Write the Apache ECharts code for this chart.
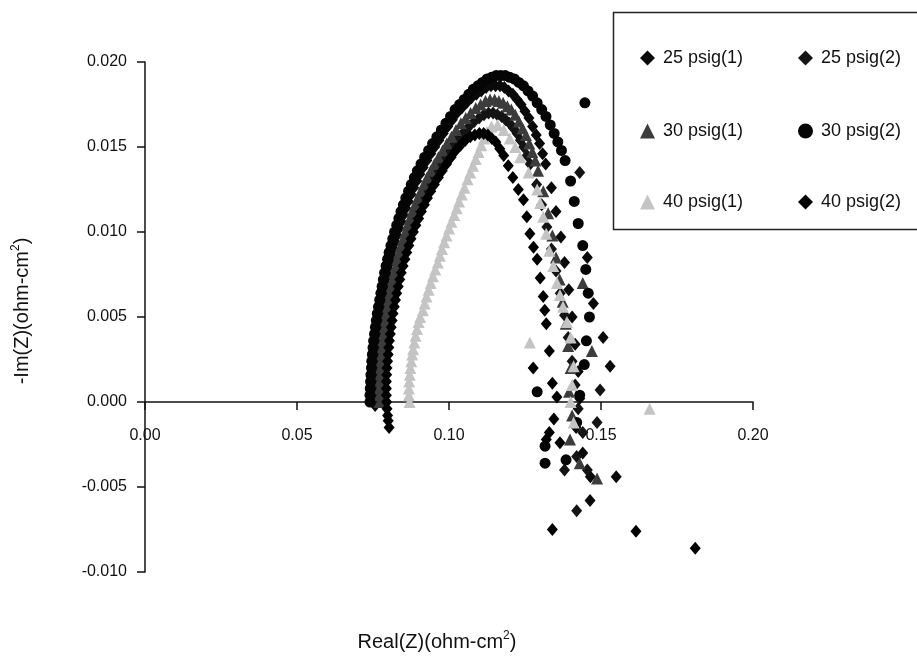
<!DOCTYPE html>
<html>
<head>
<meta charset="utf-8">
<script src="https://cdn.jsdelivr.net/npm/echarts@6/dist/echarts.min.js"></script>
<style>
html,body{margin:0;padding:0;background:#fff;}
#chart{width:917px;height:656px;}
</style>
</head>
<body>
<div id="chart"></div>
<script>
// ---- data (Real(Z), -Im(Z)) ----
const seriesNames = ['25 psig(1)', '25 psig(2)', '30 psig(1)', '30 psig(2)', '40 psig(1)', '40 psig(2)'];
const xTicks = [0.00, 0.05, 0.10, 0.15, 0.20];
const yTicks = [-0.010, -0.005, 0.000, 0.005, 0.010, 0.015, 0.020];

const psig25_1 = [
  [0.0757,-0.0002],[0.0756,0.0002],[0.0756,0.0006],[0.0756,0.0010],[0.0757,0.0014],[0.0758,0.0018],
  [0.0760,0.0022],[0.0761,0.0026],[0.0763,0.0030],[0.0765,0.0034],[0.0767,0.0038],[0.0769,0.0042],
  [0.0772,0.0046],[0.0775,0.0050],[0.0778,0.0054],[0.0781,0.0058],[0.0785,0.0062],[0.0789,0.0066],
  [0.0793,0.0070],[0.0797,0.0074],[0.0802,0.0078],[0.0807,0.0082],[0.0812,0.0086],[0.0817,0.0090],
  [0.0823,0.0094],[0.0829,0.0098],[0.0836,0.0102],[0.0843,0.0106],[0.0850,0.0110],[0.0858,0.0114],
  [0.0866,0.0118],[0.0875,0.0122],[0.0884,0.0126],[0.0894,0.0130],[0.0904,0.0134],[0.0915,0.0138],
  [0.0927,0.0142],[0.0940,0.0146],[0.0953,0.0150],[0.0967,0.0154],[0.0981,0.0158],[0.0996,0.0162],
  [0.1011,0.0166],[0.1026,0.0170],[0.1042,0.0173],[0.1058,0.0176],[0.1074,0.0179],[0.1090,0.0181],
  [0.1106,0.0183],[0.1122,0.0185],[0.1138,0.0186],[0.1153,0.0186],[0.1168,0.0186],[0.1182,0.0185],
  [0.1196,0.0183],[0.1210,0.0181],[0.1224,0.0178],[0.1237,0.0175],[0.1250,0.0171],[0.1263,0.0167],
  [0.1275,0.0162],[0.1287,0.0157],[0.1298,0.0152],[0.1308,0.0146],[0.1318,0.0140],[0.1337,0.0126],
  [0.1352,0.0112],[0.1368,0.0097],[0.1455,0.0085],[0.1380,0.0082],[0.1394,0.0066],[0.1475,0.0058],
  [0.1405,0.0050],[0.1507,0.0038],[0.1415,0.0034],[0.1530,0.0021],[0.1425,0.0018],[0.1430,0.0002],
  [0.1418,-0.0015],[0.1440,-0.0030],[0.1465,-0.0044],[0.1464,-0.0058],[0.1550,-0.0044]
];
const psig25_2 = [
  [0.0787,0.0000],[0.0786,0.0004],[0.0786,0.0008],[0.0787,0.0012],[0.0788,0.0016],[0.0789,0.0020],
  [0.0791,0.0024],[0.0793,0.0028],[0.0795,0.0032],[0.0797,0.0036],[0.0800,0.0040],[0.0803,0.0044],
  [0.0806,0.0048],[0.0809,0.0052],[0.0813,0.0056],[0.0817,0.0060],[0.0821,0.0064],[0.0825,0.0068],
  [0.0830,0.0072],[0.0835,0.0076],[0.0841,0.0080],[0.0847,0.0084],[0.0853,0.0088],[0.0859,0.0092],
  [0.0866,0.0096],[0.0873,0.0100],[0.0881,0.0104],[0.0889,0.0108],[0.0898,0.0112],[0.0907,0.0116],
  [0.0917,0.0120],[0.0927,0.0124],[0.0938,0.0128],[0.0950,0.0132],[0.0962,0.0136],[0.0975,0.0140],
  [0.0989,0.0144],[0.1003,0.0148],[0.1018,0.0152],[0.1034,0.0156],[0.1050,0.0159],[0.1066,0.0162],
  [0.1083,0.0165],[0.1099,0.0167],[0.1115,0.0169],[0.1130,0.0170],[0.1145,0.0170],[0.1159,0.0169],
  [0.1173,0.0168],[0.1186,0.0166],[0.1199,0.0164],[0.1212,0.0161],[0.1224,0.0158],[0.1235,0.0154],
  [0.1246,0.0150],[0.1257,0.0145],[0.1267,0.0140],[0.1288,0.0128],[0.1430,0.0135],[0.1305,0.0116],
  [0.1322,0.0103],[0.1337,0.0090],[0.1352,0.0077],[0.1366,0.0064],[0.1380,0.0051],[0.1392,0.0038],
  [0.1405,0.0024],[0.1497,0.0007],[0.1415,0.0010],[0.1425,-0.0004],[0.1487,-0.0012],[0.1440,-0.0018],
  [0.1420,-0.0032],[0.1455,-0.0040],[0.1420,-0.0064],[0.1380,-0.0040]
];
const psig30_1 = [
  [0.0772,0.0000],[0.0771,0.0004],[0.0771,0.0008],[0.0772,0.0012],[0.0773,0.0016],[0.0774,0.0020],
  [0.0776,0.0024],[0.0778,0.0028],[0.0780,0.0032],[0.0782,0.0036],[0.0785,0.0040],[0.0788,0.0044],
  [0.0791,0.0048],[0.0794,0.0052],[0.0798,0.0056],[0.0802,0.0060],[0.0806,0.0064],[0.0810,0.0068],
  [0.0815,0.0072],[0.0820,0.0076],[0.0825,0.0080],[0.0830,0.0084],[0.0836,0.0088],[0.0842,0.0092],
  [0.0849,0.0096],[0.0856,0.0100],[0.0863,0.0104],[0.0871,0.0108],[0.0879,0.0112],[0.0888,0.0116],
  [0.0897,0.0120],[0.0907,0.0124],[0.0917,0.0128],[0.0928,0.0132],[0.0940,0.0136],[0.0952,0.0140],
  [0.0965,0.0144],[0.0979,0.0148],[0.0993,0.0152],[0.1008,0.0156],[0.1023,0.0160],[0.1039,0.0164],
  [0.1055,0.0167],[0.1071,0.0170],[0.1088,0.0173],[0.1104,0.0175],[0.1120,0.0177],[0.1135,0.0178],
  [0.1150,0.0178],[0.1164,0.0177],[0.1178,0.0176],[0.1192,0.0174],[0.1205,0.0172],[0.1218,0.0169],
  [0.1230,0.0165],[0.1242,0.0161],[0.1253,0.0157],[0.1264,0.0152],[0.1274,0.0147],[0.1284,0.0142],
  [0.1293,0.0136],[0.1310,0.0124],[0.1326,0.0111],[0.1340,0.0098],[0.1352,0.0085],[0.1364,0.0072],
  [0.1374,0.0059],[0.1384,0.0046],[0.1392,0.0033],[0.1400,0.0020],[0.1395,0.0006],[0.1405,-0.0008],
  [0.1398,-0.0022],[0.1430,-0.0036],[0.1487,-0.0045],[0.1440,0.0070],[0.1470,0.0030]
];
const psig30_2 = [
  [0.0740,0.0000],[0.0740,0.0004],[0.0741,0.0008],[0.0742,0.0012],[0.0743,0.0016],[0.0745,0.0020],
  [0.0746,0.0024],[0.0748,0.0028],[0.0750,0.0032],[0.0752,0.0036],[0.0755,0.0040],[0.0758,0.0044],
  [0.0761,0.0048],[0.0764,0.0052],[0.0768,0.0056],[0.0772,0.0060],[0.0776,0.0064],[0.0780,0.0068],
  [0.0784,0.0072],[0.0788,0.0076],[0.0793,0.0080],[0.0798,0.0084],[0.0803,0.0088],[0.0809,0.0092],
  [0.0815,0.0096],[0.0821,0.0100],[0.0828,0.0104],[0.0835,0.0108],[0.0842,0.0112],[0.0850,0.0116],
  [0.0858,0.0120],[0.0867,0.0124],[0.0876,0.0128],[0.0886,0.0132],[0.0896,0.0136],[0.0908,0.0140],
  [0.0920,0.0144],[0.0933,0.0148],[0.0946,0.0152],[0.0960,0.0156],[0.0975,0.0160],[0.0990,0.0164],
  [0.1005,0.0168],[0.1020,0.0172],[0.1035,0.0175],[0.1050,0.0178],[0.1065,0.0181],[0.1080,0.0184],
  [0.1095,0.0186],[0.1110,0.0188],[0.1125,0.0190],[0.1140,0.0191],[0.1155,0.0192],[0.1170,0.0192],
  [0.1185,0.0192],[0.1200,0.0191],[0.1215,0.0190],[0.1230,0.0188],[0.1245,0.0186],[0.1260,0.0183],
  [0.1275,0.0180],[0.1290,0.0176],[0.1305,0.0172],[0.1319,0.0168],[0.1333,0.0163],[0.1346,0.0158],
  [0.1358,0.0153],[0.1370,0.0148],[0.1382,0.0142],[0.1447,0.0176],[0.1400,0.0130],[0.1412,0.0118],
  [0.1425,0.0105],[0.1440,0.0092],[0.1450,0.0078],[0.1458,0.0064],[0.1462,0.0050],[0.1452,0.0036],
  [0.1445,0.0022],[0.1290,0.0006],[0.1430,0.0004],[0.1420,-0.0012],[0.1316,-0.0026],[0.1316,-0.0036],
  [0.1385,-0.0034]
];
const psig40_1 = [
  [0.0870,0.0000],[0.0868,0.0004],[0.0868,0.0008],[0.0869,0.0012],[0.0871,0.0016],[0.0873,0.0020],
  [0.0876,0.0024],[0.0879,0.0028],[0.0882,0.0031],[0.0886,0.0035],[0.0890,0.0039],[0.0895,0.0043],
  [0.0900,0.0047],[0.0905,0.0050],[0.0914,0.0054],[0.0920,0.0058],[0.0926,0.0062],[0.0933,0.0066],
  [0.0940,0.0070],[0.0947,0.0074],[0.0955,0.0078],[0.0963,0.0082],[0.0970,0.0086],[0.0977,0.0090],
  [0.0984,0.0094],[0.0992,0.0098],[0.1000,0.0102],[0.1008,0.0106],[0.1017,0.0110],[0.1025,0.0114],
  [0.1033,0.0118],[0.1042,0.0122],[0.1051,0.0126],[0.1061,0.0131],[0.1070,0.0135],[0.1079,0.0139],
  [0.1088,0.0143],[0.1097,0.0147],[0.1106,0.0151],[0.1115,0.0155],[0.1125,0.0159],[0.1140,0.0162],
  [0.1160,0.0163],[0.1180,0.0160],[0.1200,0.0155],[0.1218,0.0150],[0.1234,0.0144],[0.1262,0.0135],
  [0.1290,0.0125],[0.1300,0.0117],[0.1310,0.0109],[0.1320,0.0099],[0.1330,0.0089],[0.1343,0.0080],
  [0.1355,0.0070],[0.1365,0.0063],[0.1375,0.0056],[0.1388,0.0047],[0.1400,0.0038],[0.1266,0.0035],
  [0.1410,0.0021],[0.1405,0.0010],[0.1400,0.0000],[0.1410,-0.0012],[0.1660,-0.0004]
];
const psig40_2 = [
  [0.0803,-0.0015],[0.0800,-0.0011],[0.0798,-0.0008],[0.0796,-0.0004],[0.0795,0.0000],[0.0794,0.0004],
  [0.0794,0.0008],[0.0794,0.0012],[0.0795,0.0016],[0.0796,0.0020],[0.0798,0.0024],[0.0800,0.0028],
  [0.0802,0.0032],[0.0804,0.0036],[0.0807,0.0040],[0.0810,0.0044],[0.0813,0.0048],[0.0816,0.0052],
  [0.0820,0.0056],[0.0824,0.0060],[0.0828,0.0064],[0.0833,0.0068],[0.0838,0.0072],[0.0843,0.0076],
  [0.0849,0.0080],[0.0855,0.0084],[0.0861,0.0088],[0.0868,0.0092],[0.0875,0.0096],[0.0883,0.0100],
  [0.0891,0.0104],[0.0900,0.0108],[0.0909,0.0112],[0.0919,0.0116],[0.0929,0.0120],[0.0940,0.0124],
  [0.0952,0.0128],[0.0965,0.0132],[0.0978,0.0136],[0.0992,0.0140],[0.1007,0.0144],[0.1022,0.0148],
  [0.1038,0.0151],[0.1054,0.0154],[0.1070,0.0156],[0.1085,0.0157],[0.1100,0.0158],[0.1114,0.0158],
  [0.1128,0.0157],[0.1141,0.0155],[0.1154,0.0153],[0.1167,0.0149],[0.1180,0.0145],[0.1195,0.0139],
  [0.1210,0.0132],[0.1228,0.0125],[0.1245,0.0119],[0.1256,0.0109],[0.1266,0.0099],[0.1278,0.0091],
  [0.1290,0.0084],[0.1300,0.0073],[0.1310,0.0062],[0.1315,0.0054],[0.1320,0.0046],[0.1330,0.0030],
  [0.1277,0.0020],[0.1340,0.0011],[0.1355,0.0003],[0.1320,-0.0022],[0.1330,-0.0018],[0.1345,-0.0010],
  [0.1365,-0.0024],[0.1340,-0.0075],[0.1615,-0.0076],[0.1810,-0.0086]
];

const FONT = '"Liberation Sans", Arial, sans-serif';
const styles = [
  {symbol: 'diamond', size: [11, 13], color: '#0a0a0a'},
  {symbol: 'diamond', size: [11, 13], color: '#141414'},
  {symbol: 'triangle', size: 12, color: '#3c3c3c'},
  {symbol: 'circle', size: 11, color: '#050505'},
  {symbol: 'triangle', size: 12, color: '#c4c4c4'},
  {symbol: 'diamond', size: [11, 13], color: '#000000'}
];
const dataSets = [psig25_1, psig25_2, psig30_1, psig30_2, psig40_1, psig40_2];

const legendPos = [
  {left: 635, top: 44}, {left: 793, top: 44},
  {left: 635, top: 117}, {left: 793, top: 117},
  {left: 635, top: 188}, {left: 793, top: 188}
];

const chart = echarts.init(document.getElementById('chart'), null, {renderer: 'canvas'});
chart.setOption({
  animation: false,
  backgroundColor: '#ffffff',
  textStyle: {fontFamily: FONT},
  grid: {left: 145, right: 164, top: 62, bottom: 84, containLabel: false, outerBoundsMode: 'none'},
  graphic: [{
    type: 'rect', z: 0,
    shape: {x: 613.5, y: 12.5, width: 330, height: 217},
    style: {fill: '#ffffff', stroke: '#222', lineWidth: 1.5}
  }],
  legend: seriesNames.map((n, i) => ({
    data: [n], left: legendPos[i].left, top: legendPos[i].top,
    itemWidth: 15, itemHeight: 15, itemGap: 0, selectedMode: false, z: 5,
    textStyle: {fontFamily: FONT, fontSize: 18, color: '#111', padding: [0, 0, 0, 3]}
  })),
  xAxis: {
    type: 'value', min: 0, max: 0.20, interval: 0.05,
    axisLine: {onZero: true, lineStyle: {color: '#111', width: 1.5}},
    axisTick: {show: true, inside: false, length: 8, lineStyle: {color: '#111', width: 1.5}},
    splitLine: {show: false},
    axisLabel: {margin: -144, fontFamily: FONT, fontSize: 16, color: '#111',
      formatter: v => xTicks.find(t => Math.abs(t - v) < 1e-9) !== undefined ? v.toFixed(2) : ''},
    name: 'Real(Z)(ohm-cm{sup|2})', nameLocation: 'middle', nameGap: 58,
    nameTextStyle: {fontFamily: FONT, fontSize: 20, color: '#111', padding: [0, 24, 0, 0],
      rich: {sup: {fontSize: 12, fontFamily: FONT, color: '#111', padding: [0, 0, 12, 0]}}}
  },
  yAxis: {
    type: 'value', min: -0.010, max: 0.020, interval: 0.005,
    axisLine: {show: true, onZero: false, lineStyle: {color: '#111', width: 1.5}},
    axisTick: {show: true, inside: false, length: 8, lineStyle: {color: '#111', width: 1.5}},
    splitLine: {show: false},
    axisLabel: {margin: 18, fontFamily: FONT, fontSize: 16, color: '#111',
      formatter: v => yTicks.find(t => Math.abs(t - v) < 1e-9) !== undefined ? v.toFixed(3) : ''},
    name: '-Im(Z)(ohm-cm{sup|2})', nameLocation: 'middle', nameGap: 111, nameRotate: 90,
    nameTextStyle: {fontFamily: FONT, fontSize: 20, color: '#111', padding: [0, 0, 0, 12],
      rich: {sup: {fontSize: 12, fontFamily: FONT, color: '#111', padding: [0, 0, 12, 0]}}}
  },
  series: seriesNames.map((n, i) => ({
    name: n, type: 'scatter', data: dataSets[i],
    symbol: styles[i].symbol, symbolSize: styles[i].size,
    itemStyle: {color: styles[i].color, opacity: 1},
    z: 2
  }))
});
</script>
</body>
</html>
